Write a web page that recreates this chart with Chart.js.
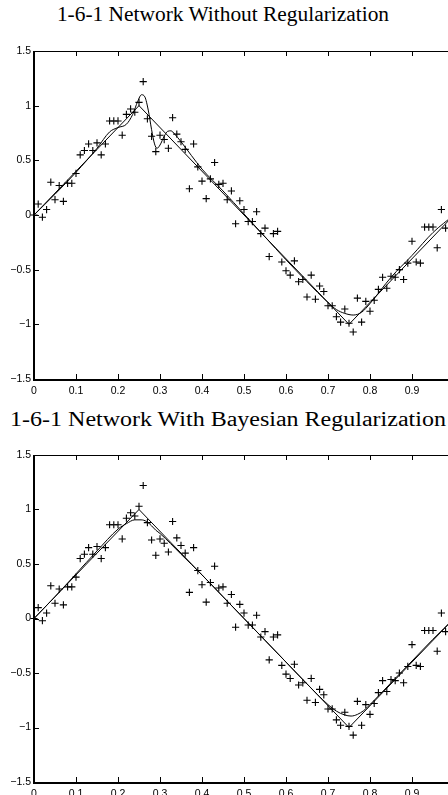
<!DOCTYPE html>
<html>
<head>
<meta charset="utf-8">
<script src="https://cdn.jsdelivr.net/npm/chart.js@4"></script>
<style>
  html, body { margin: 0; padding: 0; background: #fff; overflow: hidden; }
  #page { position: relative; width: 480px; height: 795px; }
  .title { position: absolute; font-family: "Liberation Serif", serif; font-size: 20px; color: #000; text-align: center; white-space: nowrap; transform-origin: 50% 50%; }
  canvas { position: absolute; left: 0; }
</style>
</head>
<body>
<div id="page">
  <div class="title" id="t1" style="left:0; width:446px; top:3px; transform:scaleX(1.07);">1-6-1 Network Without Regularization</div>
  <canvas id="top" width="480" height="400" style="top:0"></canvas>
  <div class="title" id="t2" style="left:0; width:456px; top:408px; transform:scaleX(1.2);">1-6-1 Network With Bayesian Regularization</div>
  <canvas id="bottom" width="480" height="391" style="top:404px"></canvas>
</div>
<script>
// noisy training samples (same in both plots)
const sampleX = [0, 0.01, 0.02, 0.03, 0.04, 0.05, 0.06, 0.07, 0.08, 0.09,
  0.10, 0.11, 0.12, 0.13, 0.14, 0.15, 0.16, 0.17, 0.18, 0.19,
  0.20, 0.21, 0.22, 0.23, 0.24, 0.25, 0.26, 0.27, 0.28, 0.29,
  0.30, 0.31, 0.32, 0.33, 0.34, 0.35, 0.36, 0.37, 0.38, 0.39,
  0.40, 0.41, 0.42, 0.43, 0.44, 0.45, 0.46, 0.47, 0.48, 0.49,
  0.50, 0.51, 0.52, 0.53, 0.54, 0.55, 0.56, 0.57, 0.58, 0.59,
  0.60, 0.61, 0.62, 0.63, 0.64, 0.65, 0.66, 0.67, 0.68, 0.69,
  0.70, 0.71, 0.72, 0.73, 0.74, 0.75, 0.76, 0.77, 0.78, 0.79,
  0.80, 0.81, 0.82, 0.83, 0.84, 0.85, 0.86, 0.87, 0.88, 0.89,
  0.90, 0.91, 0.92, 0.93, 0.94, 0.95, 0.96, 0.97, 0.98];
const sampleY = [0.00, 0.10, -0.02, 0.05, 0.30, 0.14, 0.27, 0.125, 0.29, 0.29,
  0.38, 0.55, 0.59, 0.65, 0.59, 0.66, 0.55, 0.65, 0.86, 0.86,
  0.86, 0.73, 0.92, 0.97, 0.94, 1.03, 1.22, 0.88, 0.72, 0.58,
  0.73, 0.69, 0.61, 0.89, 0.74, 0.67, 0.60, 0.24, 0.65, 0.44,
  0.31, 0.15, 0.33, 0.48, 0.28, 0.29, 0.14, 0.22, -0.08, 0.13,
  0.05, -0.06, -0.06, 0.03, -0.17, -0.12, -0.38, -0.17, -0.15, -0.43,
  -0.51, -0.55, -0.42, -0.61, -0.59, -0.75, -0.55, -0.77, -0.65, -0.70,
  -0.83, -0.83, -0.93, -0.98, -0.86, -0.99, -1.07, -0.76, -0.98, -0.79,
  -0.88, -0.78, -0.68, -0.57, -0.67, -0.56, -0.57, -0.50, -0.59, -0.44,
  -0.24, -0.43, -0.44, -0.11, -0.11, -0.11, -0.30, 0.05, -0.12];

// target function (triangle wave)
const targetX = [0, 0.25, 0.75, 1];
const targetY = [0, 1, -1, 0];

// network response without regularization
const netX = [0, 0.05, 0.10, 0.15, 0.18, 0.20, 0.22, 0.235, 0.247, 0.256, 0.264, 0.272, 0.28, 0.287, 0.293, 0.30, 0.31, 0.318, 0.326, 0.335, 0.35, 0.40, 0.45, 0.50, 0.55, 0.60, 0.65, 0.70, 0.72, 0.74, 0.76, 0.78, 0.80, 0.85, 0.90, 0.95, 1.0];
const netY = [0, 0.19, 0.39, 0.61, 0.76, 0.80, 0.83, 0.92, 1.04, 1.10, 1.08, 0.96, 0.78, 0.65, 0.61, 0.64, 0.72, 0.765, 0.77, 0.74, 0.67, 0.42, 0.22, 0.01, -0.20, -0.41, -0.61, -0.80, -0.865, -0.90, -0.915, -0.89, -0.81, -0.57, -0.37, -0.16, 0.0];

// network response with Bayesian regularization
const bayesX = [0, 0.05, 0.10, 0.15, 0.20, 0.22, 0.24, 0.255, 0.268, 0.28, 0.29, 0.30, 0.35, 0.40, 0.45, 0.50, 0.55, 0.60, 0.65, 0.70, 0.72, 0.74, 0.755, 0.77, 0.785, 0.80, 0.85, 0.90, 0.95, 1.0];
const bayesY = [0, 0.20, 0.41, 0.62, 0.82, 0.87, 0.905, 0.905, 0.89, 0.85, 0.81, 0.78, 0.59, 0.40, 0.20, 0.0, -0.20, -0.40, -0.60, -0.79, -0.85, -0.885, -0.895, -0.88, -0.845, -0.79, -0.59, -0.39, -0.19, 0.0];

const xTicks = [0, 0.1, 0.2, 0.3, 0.4, 0.5, 0.6, 0.7, 0.8, 0.9, 1];
const yTicks = [-1.5, -1, -0.5, 0, 0.5, 1, 1.5];

const pts = (xs, ys) => xs.map((x, i) => ({x: x, y: ys[i]}));
const fmt = v => {
  let s = String(Math.round(v * 10) / 10);
  return s.replace('-', '\u2212');
};

// matlab-style box with inward ticks
const boxTicks = {
  id: 'boxTicks',
  afterDatasetsDraw(chart) {
    const ctx = chart.ctx, a = chart.chartArea;
    const xs = chart.scales.x, ys = chart.scales.y;
    ctx.save();
    ctx.strokeStyle = '#000';
    ctx.lineWidth = 1;
    ctx.beginPath();
    xTicks.forEach(v => {
      if (v <= xs.min || v >= xs.max) return;
      const px = Math.round(xs.getPixelForValue(v)) + 0.5;
      ctx.moveTo(px, a.bottom); ctx.lineTo(px, a.bottom - 5);
      ctx.moveTo(px, a.top); ctx.lineTo(px, a.top + 5);
    });
    yTicks.forEach(v => {
      if (v <= ys.min || v >= ys.max) return;
      const py = Math.round(ys.getPixelForValue(v)) + 0.5;
      ctx.moveTo(a.left, py); ctx.lineTo(a.left + 5, py);
      ctx.moveTo(a.right, py); ctx.lineTo(a.right - 5, py);
    });
    ctx.moveTo(a.left, a.top + 0.5); ctx.lineTo(a.right, a.top + 0.5);
    ctx.moveTo(a.right - 0.5, a.top); ctx.lineTo(a.right - 0.5, a.bottom);
    ctx.stroke();
    ctx.lineWidth = 2;
    ctx.beginPath();
    ctx.moveTo(a.left, a.top); ctx.lineTo(a.left, a.bottom + 1);
    ctx.lineTo(a.right, a.bottom + 1);
    ctx.stroke();
    ctx.restore();
  }
};

function makeChart(id, fitX, fitY, axisH) {
  return new Chart(document.getElementById(id), {
    type: 'scatter',
    data: {
      datasets: [
        {
          label: 'samples',
          data: pts(sampleX, sampleY),
          pointStyle: 'cross',
          pointRadius: 3.6,
          pointBorderWidth: 1.1,
          borderColor: '#000',
          backgroundColor: '#000',
          clip: 5
        },
        {
          label: 'target',
          data: pts(targetX, targetY),
          showLine: true,
          pointRadius: 0,
          borderColor: '#000',
          borderWidth: 1,
          tension: 0
        },
        {
          label: 'network',
          data: pts(fitX, fitY),
          showLine: true,
          pointRadius: 0,
          borderColor: '#000',
          borderWidth: 1,
          cubicInterpolationMode: 'monotone'
        }
      ]
    },
    options: {
      responsive: false,
      animation: false,
      devicePixelRatio: 1,
      layout: { padding: { top: 51, right: 26, left: 0, bottom: 0 } },
      plugins: { legend: { display: false }, tooltip: { enabled: false } },
      scales: {
        x: {
          type: 'linear', min: 0, max: 1,
          grid: { display: false, drawTicks: false },
          border: { display: false },
          afterBuildTicks: s => { s.ticks = xTicks.map(v => ({value: v})); },
          afterFit: s => { s.height = axisH; },
          ticks: {
            color: '#000', padding: 6, maxRotation: 0,
            font: { family: 'Liberation Sans', size: 10.5 },
            callback: fmt
          }
        },
        y: {
          min: -1.5, max: 1.5,
          grid: { display: false, drawTicks: false },
          border: { display: false },
          afterBuildTicks: s => { s.ticks = yTicks.map(v => ({value: v})); },
          afterFit: s => { s.width = 34; },
          ticks: {
            color: '#000', padding: 3,
            font: { family: 'Liberation Sans', size: 10.5 },
            callback: fmt
          }
        }
      }
    },
    plugins: [boxTicks]
  });
}

makeChart('top', netX, netY, 21);
makeChart('bottom', bayesX, bayesY, 13);
</script>
</body>
</html>
